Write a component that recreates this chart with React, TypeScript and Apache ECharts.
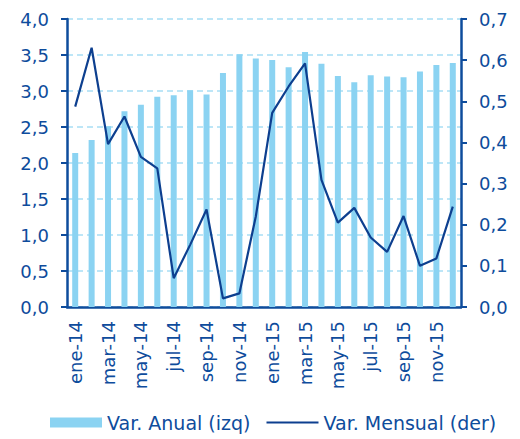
import React, { useEffect, useRef } from "react";
import * as echarts from "echarts";

const months = [
  "ene-14", "feb-14", "mar-14", "abr-14", "may-14", "jun-14", "jul-14", "ago-14", "sep-14", "oct-14", "nov-14", "dic-14",
  "ene-15", "feb-15", "mar-15", "abr-15", "may-15", "jun-15", "jul-15", "ago-15", "sep-15", "oct-15", "nov-15", "dic-15",
];
const anual = [
  2.14, 2.32, 2.51, 2.72, 2.81, 2.92, 2.94, 3.01, 2.95, 3.25, 3.51, 3.45,
  3.43, 3.33, 3.54, 3.38, 3.21, 3.12, 3.22, 3.2, 3.19, 3.27, 3.36, 3.39,
];
const mensual = [
  0.487, 0.63, 0.396, 0.463, 0.365, 0.337, 0.07, 0.151, 0.237, 0.021, 0.033, 0.22,
  0.472, 0.536, 0.592, 0.309, 0.205, 0.241, 0.169, 0.134, 0.221, 0.1, 0.118, 0.244,
];

const DARK = "#0e4c9c";
const LINE = "#0d3f8f";
const LIGHT = "#8bd3f2";
const FONT = "DejaVu Sans";
const fmt = (v: number) => v.toFixed(1).replace(".", ",");

export default function App() {
  const ref = useRef<HTMLDivElement>(null);
  useEffect(() => {
    if (!ref.current) return;
    const chart = echarts.init(ref.current, null, { renderer: "svg" });
    chart.setOption({
      animation: false,
      textStyle: { fontFamily: FONT },
      grid: { left: 67, right: 59, top: 19, bottom: 132, containLabel: false },
      legend: {
        bottom: 2,
        left: 45,
        itemWidth: 52,
        itemHeight: 10,
        itemGap: 15,
        textStyle: { color: DARK, fontSize: 19, fontFamily: FONT },
        data: [
          { name: "Var. Anual (izq)", icon: "rect" },
          { name: "Var. Mensual (der)", itemStyle: { opacity: 0 }, lineStyle: { color: LINE, width: 2 } },
        ],
      },
      xAxis: {
        type: "category",
        data: months,
        boundaryGap: true,
        axisLine: { lineStyle: { color: DARK, width: 2.5 } },
        axisTick: { interval: 1, length: 6, lineStyle: { color: DARK, width: 2 } },
        axisLabel: { interval: 1, rotate: 90, margin: 14, color: DARK, fontSize: 18, fontFamily: FONT },
      },
      yAxis: [
        {
          type: "value",
          min: 0,
          max: 4,
          interval: 0.5,
          axisLine: { show: true, lineStyle: { color: DARK, width: 2.5 } },
          axisTick: { show: true, length: 6, lineStyle: { color: DARK, width: 2 } },
          axisLabel: { formatter: fmt, color: DARK, fontSize: 18, margin: 18, fontFamily: FONT },
          splitLine: { show: true, lineStyle: { color: "#a8def5", type: [6, 4], width: 1.5 } },
        },
        {
          type: "value",
          min: 0,
          max: 0.7,
          interval: 0.1,
          position: "right",
          axisLine: { show: true, lineStyle: { color: DARK, width: 2.5 } },
          axisTick: { show: true, length: 6, lineStyle: { color: DARK, width: 2 } },
          axisLabel: { formatter: fmt, color: DARK, fontSize: 18, margin: 18, fontFamily: FONT },
          splitLine: { show: false },
        },
      ],
      series: [
        {
          name: "Var. Anual (izq)",
          type: "bar",
          yAxisIndex: 0,
          data: anual,
          barWidth: 6,
          itemStyle: { color: LIGHT },
        },
        {
          name: "Var. Mensual (der)",
          type: "line",
          yAxisIndex: 1,
          data: mensual,
          symbol: "none",
          lineStyle: { color: LINE, width: 2.2 },
          itemStyle: { color: LINE },
        },
      ],
    });
    return () => chart.dispose();
  }, []);
  return <div ref={ref} style={{ position: "absolute", left: 0, top: 0, width: 520, height: 439 }} />;
}
